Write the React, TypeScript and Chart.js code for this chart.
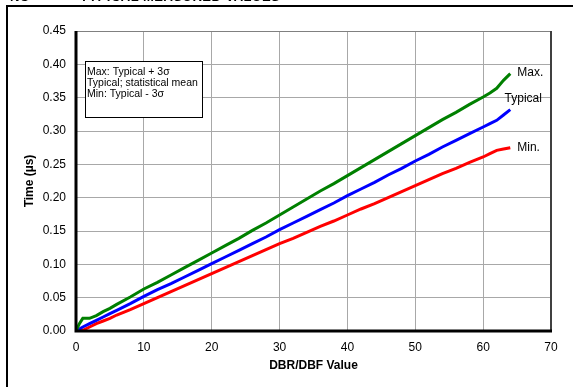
import React, { useEffect, useRef } from "react";
import { Chart, registerables } from "chart.js";

Chart.register(...registerables);

const xValues = [0, 0.5, 1, 2, 3, 4, 5, 6, 8, 10, 12, 14, 16, 18, 20, 22, 24, 26, 28, 30, 32, 34, 36, 38, 40, 42, 44, 46, 48, 50, 52, 54, 56, 58, 60, 61, 62, 63, 64];
const maxValues = [0, 0.011, 0.019, 0.019, 0.023, 0.029, 0.034, 0.04, 0.051, 0.063, 0.073, 0.084, 0.095, 0.106, 0.117, 0.128, 0.139, 0.151, 0.162, 0.174, 0.186, 0.198, 0.21, 0.221, 0.233, 0.245, 0.257, 0.269, 0.281, 0.293, 0.305, 0.317, 0.328, 0.34, 0.351, 0.357, 0.364, 0.376, 0.386];
const typicalValues = [0, 0.003, 0.006, 0.011, 0.016, 0.021, 0.026, 0.031, 0.041, 0.052, 0.062, 0.071, 0.081, 0.091, 0.101, 0.111, 0.121, 0.131, 0.141, 0.152, 0.162, 0.172, 0.182, 0.192, 0.203, 0.213, 0.223, 0.234, 0.244, 0.255, 0.265, 0.276, 0.286, 0.296, 0.306, 0.311, 0.316, 0.324, 0.332];
const minValues = [0, 0, 0.001, 0.006, 0.011, 0.015, 0.019, 0.024, 0.032, 0.041, 0.05, 0.059, 0.068, 0.077, 0.086, 0.095, 0.104, 0.113, 0.122, 0.131, 0.139, 0.148, 0.157, 0.165, 0.174, 0.183, 0.191, 0.2, 0.209, 0.218, 0.227, 0.236, 0.244, 0.253, 0.261, 0.266, 0.271, 0.273, 0.275];

const seriesNames = ["Max.", "Typical", "Min."];
const seriesColors = ["#008000", "#0000ff", "#ff0000"];
const legendLines = ["Max: Typical + 3σ", "Typical; statistical mean", "Min: Typical - 3σ"];
const titleText = "TYPICAL MEASURED VALUES";
const xTitle = "DBR/DBF Value";
const yTitle = "Time (µs)";

const FONT = "'Liberation Sans', Arial, Helvetica, sans-serif";

export default function App() {
  const ref = useRef<HTMLCanvasElement | null>(null);

  useEffect(() => {
    if (!ref.current) return;
    const toPts = (vals: number[]) => xValues.map((x, i) => ({ x, y: vals[i] }));

    const overlay = {
      id: "overlay",
      afterDraw(chart: any) {
        const ctx = chart.ctx;
        const a = chart.chartArea;
        const xs = chart.scales.x;
        const ys = chart.scales.y;
        ctx.save();
        // top border
        ctx.strokeStyle = "#808080";
        ctx.lineWidth = 1;
        ctx.beginPath();
        ctx.moveTo(a.left, a.top + 0.5);
        ctx.lineTo(a.right, a.top + 0.5);
        ctx.stroke();
        // right border
        ctx.strokeStyle = "#404040";
        ctx.lineWidth = 2;
        ctx.beginPath();
        ctx.moveTo(a.right, a.top);
        ctx.lineTo(a.right, a.bottom);
        ctx.stroke();
        // left and bottom axes
        ctx.strokeStyle = "#000000";
        ctx.lineWidth = 3;
        ctx.beginPath();
        ctx.moveTo(a.left, a.top);
        ctx.lineTo(a.left, a.bottom);
        ctx.lineTo(a.right + 1, a.bottom);
        ctx.stroke();

        // legend box
        const bx = 85, by = 61, bw = 117, bh = 56;
        ctx.fillStyle = "#ffffff";
        ctx.fillRect(bx, by, bw, bh);
        ctx.strokeStyle = "#000000";
        ctx.lineWidth = 1;
        ctx.strokeRect(bx + 0.5, by + 0.5, bw, bh);
        ctx.fillStyle = "#000000";
        ctx.font = "10.5px " + FONT;
        ctx.textBaseline = "middle";
        ctx.textAlign = "left";
        legendLines.forEach((t, i) => ctx.fillText(t, bx + 2, 72 + i * 11.3));

        // series end labels
        ctx.font = "12px " + FONT;
        const lastX = xValues[xValues.length - 1];
        const ends = [maxValues, typicalValues, minValues].map((v) => v[v.length - 1]);
        const px = xs.getPixelForValue(lastX);
        ctx.textAlign = "left";
        ctx.fillText(seriesNames[0], px + 7, ys.getPixelForValue(ends[0]) - 1);
        ctx.textAlign = "center";
        ctx.fillText(seriesNames[1], px + 13, ys.getPixelForValue(ends[1]) - 11);
        ctx.textAlign = "left";
        ctx.fillText(seriesNames[2], px + 7, ys.getPixelForValue(ends[2]));
        ctx.restore();
      },
    };

    const chart = new Chart(ref.current, {
      type: "line",
      data: {
        datasets: [maxValues, typicalValues, minValues].map((v, i) => ({
          label: seriesNames[i],
          data: toPts(v),
          borderColor: seriesColors[i],
          backgroundColor: seriesColors[i],
          borderWidth: 3,
          pointRadius: 0,
          tension: 0,
          fill: false,
        })),
      },
      options: {
        responsive: false,
        maintainAspectRatio: false,
        animation: false,
        layout: { padding: { left: 0, right: 22, top: 31, bottom: 14 } },
        plugins: { legend: { display: false }, tooltip: { enabled: false } },
        scales: {
          x: {
            type: "linear",
            min: 0,
            max: 70,
            afterFit: (s: any) => { s.height = 42; },
            ticks: { stepSize: 10, color: "#000", padding: 9, font: { family: FONT, size: 12 } },
            grid: { color: "#a8a8a8", lineWidth: 1, drawTicks: false },
            border: { display: false },
            title: { display: true, text: xTitle, color: "#000", padding: { top: 5, bottom: 0 }, font: { family: FONT, size: 12, weight: "bold" } },
          },
          y: {
            type: "linear",
            min: 0,
            max: 0.45,
            afterFit: (s: any) => { s.width = 76; },
            ticks: {
              stepSize: 0.05,
              color: "#000",
              padding: 10,
              font: { family: FONT, size: 12 },
              callback: (v: any) => Number(v).toFixed(2),
            },
            grid: { color: "#a8a8a8", lineWidth: 1, drawTicks: false },
            border: { display: false },
            title: { display: true, text: yTitle, color: "#000", padding: { top: 22, bottom: 6 }, font: { family: FONT, size: 12, weight: "bold" } },
          },
        },
      },
      plugins: [overlay],
    });
    return () => chart.destroy();
  }, []);

  return (
    <div style={{ position: "absolute", left: 0, top: 0, width: 573, height: 387, background: "#fff", overflow: "hidden" }}>
      <canvas ref={ref} width={573} height={387} style={{ position: "absolute", left: 0, top: 0 }} />
      <div style={{ position: "absolute", left: 6, top: 5, width: 567, height: 2, background: "#000" }} />
      <div style={{ position: "absolute", left: 6, top: 5, width: 2, height: 382, background: "#000" }} />
      <div style={{ position: "absolute", left: 0, top: 0, width: 573, height: 3, overflow: "hidden" }}>
        <div style={{ position: "absolute", left: 10, top: -11, font: "bold 13px " + FONT, whiteSpace: "nowrap" }}>NO</div>
        <div style={{ position: "absolute", left: 80, top: -11, font: "bold 13px " + FONT, whiteSpace: "nowrap", letterSpacing: 0.5 }}>{titleText}</div>
      </div>
    </div>
  );
}
